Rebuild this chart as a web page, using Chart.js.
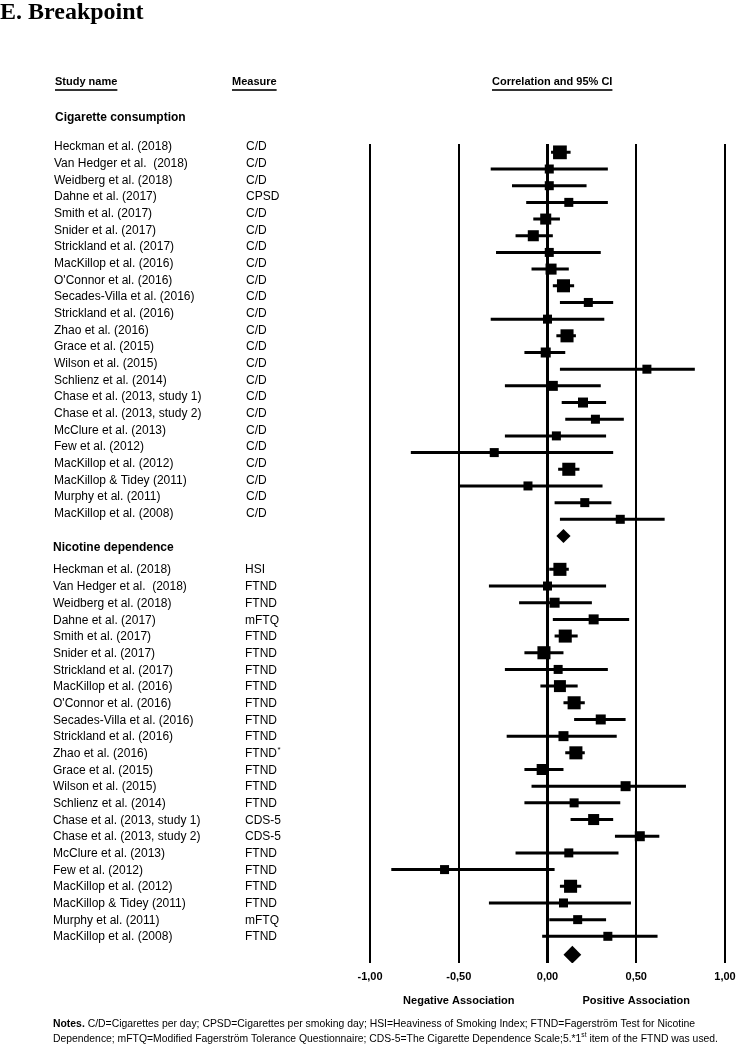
<!DOCTYPE html>
<html lang="en">
<head>
  <meta charset="UTF-8" />
  <title>E. Breakpoint</title>
  <script src="https://cdn.jsdelivr.net/npm/chart.js"></script>
  <style>
    body { margin: 0; background: #fff; }
    #plot { display: block; }
  </style>
</head>
<body>
<canvas id="plot" width="745" height="1050"></canvas>

<script>
  // study names (same list in both groups)
  const studies = [
    'Heckman et al. (2018)', 'Van Hedger et al.  (2018)', 'Weidberg et al. (2018)', 'Dahne et al. (2017)',
    'Smith et al. (2017)', 'Snider et al. (2017)', 'Strickland et al. (2017)', 'MacKillop et al. (2016)',
    "O'Connor et al. (2016)", 'Secades-Villa et al. (2016)', 'Strickland et al. (2016)', 'Zhao et al. (2016)',
    'Grace et al. (2015)', 'Wilson et al. (2015)', 'Schlienz et al. (2014)', 'Chase et al. (2013, study 1)',
    'Chase et al. (2013, study 2)', 'McClure et al. (2013)', 'Few et al. (2012)', 'MacKillop et al. (2012)',
    'MacKillop & Tidey (2011)', 'Murphy et al. (2011)', 'MacKillop et al. (2008)'
  ];

  // Cigarette consumption
  const cigMeasure = ['C/D', 'C/D', 'C/D', 'CPSD', 'C/D', 'C/D', 'C/D', 'C/D', 'C/D', 'C/D', 'C/D', 'C/D',
                      'C/D', 'C/D', 'C/D', 'C/D', 'C/D', 'C/D', 'C/D', 'C/D', 'C/D', 'C/D', 'C/D'];
  const cigR  = [0.07, 0.01, 0.01, 0.12, -0.01, -0.08, 0.01, 0.02, 0.09, 0.23, 0.00, 0.11,
                 -0.01, 0.56, 0.03, 0.20, 0.27, 0.05, -0.30, 0.12, -0.11, 0.21, 0.41];
  const cigLo = [0.02, -0.32, -0.20, -0.12, -0.08, -0.18, -0.29, -0.09, 0.03, 0.07, -0.32, 0.05,
                 -0.13, 0.07, -0.24, 0.08, 0.10, -0.24, -0.77, 0.06, -0.50, 0.04, 0.07];
  const cigHi = [0.13, 0.34, 0.22, 0.34, 0.07, 0.03, 0.30, 0.12, 0.15, 0.37, 0.32, 0.16,
                 0.10, 0.83, 0.30, 0.33, 0.43, 0.33, 0.37, 0.18, 0.31, 0.36, 0.66];
  const cigWeight = [7, 3, 3, 3, 4.5, 4.5, 3, 4.5, 6.3, 3, 3, 6.3,
                     3.7, 3, 3.7, 3.7, 3, 3, 3, 6.3, 3, 3, 3];
  const cigSummary = { r: 0.09, lo: 0.05, hi: 0.13 };

  // Nicotine dependence
  const nicMeasure = ['HSI', 'FTND', 'FTND', 'mFTQ', 'FTND', 'FTND', 'FTND', 'FTND', 'FTND', 'FTND', 'FTND', 'FTND*',
                      'FTND', 'FTND', 'FTND', 'CDS-5', 'CDS-5', 'FTND', 'FTND', 'FTND', 'FTND', 'mFTQ', 'FTND'];
  const nicR  = [0.07, 0.00, 0.04, 0.26, 0.10, -0.02, 0.06, 0.07, 0.15, 0.30, 0.09, 0.16,
                 -0.03, 0.44, 0.15, 0.26, 0.52, 0.12, -0.58, 0.13, 0.09, 0.17, 0.34];
  const nicLo = [0.01, -0.33, -0.16, 0.03, 0.04, -0.13, -0.24, -0.04, 0.09, 0.15, -0.23, 0.10,
                 -0.13, -0.09, -0.13, 0.13, 0.38, -0.18, -0.88, 0.07, -0.33, 0.01, -0.03];
  const nicHi = [0.12, 0.33, 0.25, 0.46, 0.17, 0.09, 0.34, 0.17, 0.21, 0.44, 0.39, 0.21,
                 0.09, 0.78, 0.41, 0.37, 0.63, 0.40, 0.04, 0.19, 0.47, 0.33, 0.62];
  const nicWeight = [6.3, 3, 3.7, 3.7, 6.3, 6.3, 3, 5.3, 6.3, 3.7, 3.7, 6.3,
                     4.5, 3.7, 3, 4.5, 3.7, 3, 3, 6.3, 3, 3, 3];
  const nicSummary = { r: 0.14, lo: 0.09, hi: 0.19 };

  const xTicks = [-1, -0.5, 0, 0.5, 1];

  // row layout (in row units, top to bottom)
  const cigRow = i => i;
  const nicRow = i => 25 + i;
  const cigSumRow = 23;
  const nicSumRow = 48.1;

  // CI segments, broken by empty points
  const ciData = [];
  studies.forEach((s, i) => {
    ciData.push({ x: cigLo[i], y: cigRow(i) }, { x: cigHi[i], y: cigRow(i) }, { x: null, y: null });
    ciData.push({ x: nicLo[i], y: nicRow(i) }, { x: nicHi[i], y: nicRow(i) }, { x: null, y: null });
  });

  const pointData = [];
  const pointSize = [];
  studies.forEach((s, i) => {
    pointData.push({ x: cigR[i], y: cigRow(i) });
    pointSize.push(cigWeight[i]);
  });
  studies.forEach((s, i) => {
    pointData.push({ x: nicR[i], y: nicRow(i) });
    pointSize.push(nicWeight[i]);
  });

  const summaries = [cigSummary, nicSummary];
  const summaryData = [{ x: cigSummary.r, y: cigSumRow }, { x: nicSummary.r, y: nicSumRow }];

  // draw text with a trailing superscript part
  function drawWithSup(ctx, text, sup, x, y, font, supFont) {
    ctx.font = font;
    ctx.fillText(text, x, y);
    const w = ctx.measureText(text).width;
    ctx.font = supFont;
    ctx.fillText(sup, x + w + 0.5, y - 4);
  }

  const forestText = {
    id: 'forestText',
    afterDraw(chart) {
      const ctx = chart.ctx;
      const ys = chart.scales.y;
      const xs = chart.scales.x;
      const sans = '"Liberation Sans", Arial, sans-serif';
      ctx.save();
      ctx.fillStyle = '#000';
      ctx.textBaseline = 'middle';
      ctx.textAlign = 'left';

      // title
      ctx.font = 'bold 24px "Liberation Serif", "Times New Roman", serif';
      ctx.fillText('E. Breakpoint', 0, 13);

      // column headers, underlined
      ctx.font = 'bold 11px ' + sans;
      [['Study name', 55], ['Measure', 232], ['Correlation and 95% CI', 492]].forEach(([t, x]) => {
        ctx.fillText(t, x, 82);
        const w = ctx.measureText(t).width;
        ctx.fillStyle = '#333';
        ctx.fillRect(x, 89, w, 2);
        ctx.fillStyle = '#000';
      });

      // group labels
      ctx.font = 'bold 12px ' + sans;
      ctx.fillText('Cigarette consumption', 55, ys.getPixelForValue(-2.1));
      ctx.fillText('Nicotine dependence', 53, ys.getPixelForValue(23.7));

      // study rows
      const rowFont = '12px ' + sans;
      studies.forEach((s, i) => {
        ctx.font = rowFont;
        const yc = ys.getPixelForValue(cigRow(i) - 0.33);
        ctx.fillText(s, 54, yc);
        ctx.fillText(cigMeasure[i], 246, yc);
        const yn = ys.getPixelForValue(nicRow(i) + 0.05);
        ctx.fillText(s, 53, yn);
        const m = nicMeasure[i];
        if (m.endsWith('*')) {
          drawWithSup(ctx, m.slice(0, -1), '*', 245, yn, rowFont, '8px ' + sans);
        } else {
          ctx.fillText(m, 245, yn);
        }
      });

      // association labels
      ctx.font = 'bold 11px ' + sans;
      ctx.textAlign = 'center';
      ctx.fillText('Negative Association', xs.getPixelForValue(-0.5), 1001);
      ctx.fillText('Positive Association', xs.getPixelForValue(0.5), 1001);

      // notes (squeezed like a narrow face)
      ctx.textAlign = 'left';
      const nFont = '11px ' + sans;
      const nBold = 'bold 11px ' + sans;
      const line1a = 'Notes.';
      const line1b = ' C/D=Cigarettes per day; CPSD=Cigarettes per smoking day; HSI=Heaviness of Smoking Index; FTND=Fagerstr\u00f6m Test for Nicotine';
      ctx.font = nBold;
      const wa = ctx.measureText(line1a).width;
      ctx.font = nFont;
      const wb = ctx.measureText(line1b).width;
      let sx = 642 / (wa + wb);
      ctx.save();
      ctx.translate(53, 1024);
      ctx.scale(sx, 1);
      ctx.font = nBold;
      ctx.fillText(line1a, 0, 0);
      ctx.font = nFont;
      ctx.fillText(line1b, wa, 0);
      ctx.restore();

      const line2a = 'Dependence; mFTQ=Modified Fagerstr\u00f6m Tolerance Questionnaire; CDS-5=The Cigarette Dependence Scale;5.*1';
      const line2b = 'st';
      const line2c = ' item of the FTND was used.';
      ctx.font = nFont;
      const w2a = ctx.measureText(line2a).width;
      const w2c = ctx.measureText(line2c).width;
      ctx.font = '7px ' + sans;
      const w2b = ctx.measureText(line2b).width;
      sx = 665 / (w2a + w2b + w2c);
      ctx.save();
      ctx.translate(53, 1039);
      ctx.scale(sx, 1);
      ctx.font = nFont;
      ctx.fillText(line2a, 0, 0);
      ctx.font = '7px ' + sans;
      ctx.fillText(line2b, w2a, -4);
      ctx.font = nFont;
      ctx.fillText(line2c, w2a + w2b, 0);
      ctx.restore();

      ctx.restore();
    }
  };

  new Chart(document.getElementById('plot'), {
    type: 'scatter',
    data: {
      datasets: [
        {
          type: 'line',
          data: ciData,
          borderColor: '#000',
          borderWidth: 3,
          pointRadius: 0,
          spanGaps: false,
          order: 3
        },
        {
          data: pointData,
          pointStyle: 'rect',
          backgroundColor: '#000',
          borderWidth: 0,
          pointRadius: ctx => 5.2 * Math.sqrt(pointSize[ctx.dataIndex]) / (2 * Math.SQRT1_2),
          order: 2
        },
        {
          data: summaryData,
          pointStyle: 'rectRot',
          backgroundColor: '#000',
          borderWidth: 0,
          pointRadius: ctx => {
            const s = ctx.chart.scales.x;
            const d = summaries[ctx.dataIndex];
            return (s.getPixelForValue(d.hi) - s.getPixelForValue(d.lo)) / 2;
          },
          order: 1
        }
      ]
    },
    options: {
      responsive: false,
      animation: false,
      events: [],
      layout: { padding: { left: 370, right: 20, top: 144, bottom: 67 } },
      plugins: { legend: { display: false }, tooltip: { enabled: false } },
      scales: {
        x: {
          type: 'linear',
          min: -1,
          max: 1,
          afterBuildTicks: scale => { scale.ticks = xTicks.map(v => ({ value: v })); },
          afterFit: scale => { scale.height = 20; },
          grid: {
            color: '#000',
            lineWidth: c => (c.tick && c.tick.value === 0 ? 3 : 2),
            drawTicks: false
          },
          border: { display: false },
          ticks: {
            color: '#000',
            padding: 7,
            font: { family: '"Liberation Sans", Arial, sans-serif', size: 11, weight: 'bold' },
            callback: v => v.toFixed(2).replace('.', ',')
          }
        },
        y: {
          type: 'linear',
          display: false,
          reverse: true,
          min: -0.5,
          max: 48.6
        }
      }
    },
    plugins: [forestText]
  });
</script>
</body>
</html>
